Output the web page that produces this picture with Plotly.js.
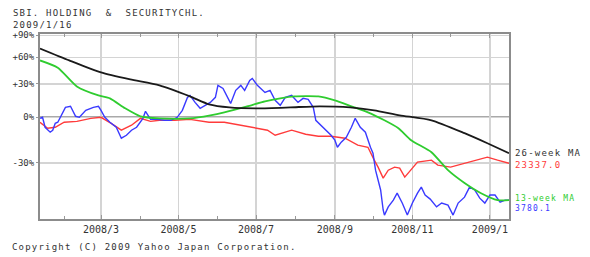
<!DOCTYPE html>
<html>
<head>
<meta charset="utf-8">
<script src="https://cdn.plot.ly/plotly-3.0.1.min.js"></script>
<style>
html,body{margin:0;padding:0;background:#fff;}
#chart{width:590px;height:257px;}
#chart svg .annotation-text{letter-spacing:1.2px;}
</style>
</head>
<body>
<div id="chart"></div>
<script>
// ---- data (percent change vs. start) ----
const stockDates = ["2008-01-13","2008-01-15","2008-01-17","2008-01-21","2008-01-23","2008-01-25","2008-01-27","2008-01-30","2008-02-02","2008-02-06","2008-02-10","2008-02-13","2008-02-18","2008-02-24","2008-02-28","2008-03-01","2008-03-04","2008-03-08","2008-03-13","2008-03-17","2008-03-21","2008-03-25","2008-03-29","2008-04-03","2008-04-05","2008-04-09","2008-04-14","2008-04-20","2008-04-25","2008-04-30","2008-05-04","2008-05-08","2008-05-10","2008-05-14","2008-05-18","2008-05-22","2008-05-26","2008-05-30","2008-06-01","2008-06-05","2008-06-09","2008-06-11","2008-06-15","2008-06-19","2008-06-22","2008-06-26","2008-06-28","2008-07-02","2008-07-08","2008-07-12","2008-07-16","2008-07-20","2008-07-24","2008-07-29","2008-08-03","2008-08-07","2008-08-11","2008-08-15","2008-08-17","2008-08-21","2008-08-25","2008-08-29","2008-09-01","2008-09-03","2008-09-06","2008-09-10","2008-09-14","2008-09-17","2008-09-21","2008-09-25","2008-09-29","2008-10-01","2008-10-03","2008-10-07","2008-10-09","2008-10-10","2008-10-13","2008-10-17","2008-10-20","2008-10-24","2008-10-28","2008-11-01","2008-11-05","2008-11-08","2008-11-11","2008-11-15","2008-11-20","2008-11-24","2008-11-29","2008-12-03","2008-12-07","2008-12-12","2008-12-16","2008-12-20","2008-12-24","2008-12-28","2009-01-01","2009-01-05","2009-01-09","2009-01-13","2009-01-16"];
const stockPct = [-0.8,0,-7.5,-11.0,-9.6,-4.6,-3.8,1.6,8.1,9.0,0.8,0,5.6,8.1,9.0,5.6,0,-3.8,-7.5,-15.1,-13.1,-9.6,-7.5,-0.8,4.8,-1.6,-1.6,-2.3,-2.3,0,5.6,16.9,18.7,12.4,7.3,9.8,12.4,16.9,28.4,25.4,16.0,11.5,23.5,28.4,23.5,33.5,35.6,28.4,21.5,23.5,14.2,9.8,16.9,18.7,12.4,16.0,15.1,8.1,-2.3,-6.0,-9.6,-13.1,-16.4,-20.9,-17.7,-14.5,-7.5,-0.8,-7.5,-11.0,-20.9,-24.5,-33.9,-43.4,-51.6,-53.5,-50.4,-47.7,-44.8,-48.9,-53.5,-48.9,-44.8,-42.1,-45.6,-47.3,-50.4,-48.9,-49.7,-53.5,-48.9,-46.5,-42.1,-43.4,-46.9,-48.9,-45.6,-45.6,-48.5,-47.7,-47.7];

const indexDates = ["2008-01-13","2008-01-19","2008-01-25","2008-02-01","2008-02-11","2008-02-22","2008-03-01","2008-03-09","2008-03-17","2008-03-25","2008-04-01","2008-04-09","2008-04-16","2008-04-28","2008-05-10","2008-05-25","2008-06-06","2008-06-19","2008-06-30","2008-07-10","2008-07-16","2008-07-29","2008-08-09","2008-08-19","2008-08-29","2008-09-09","2008-09-19","2008-09-27","2008-10-02","2008-10-05","2008-10-09","2008-10-13","2008-10-18","2008-10-22","2008-10-26","2008-10-31","2008-11-05","2008-11-16","2008-11-21","2008-12-01","2008-12-12","2008-12-22","2008-12-30","2009-01-07","2009-01-16"];
const indexPct = [-3.8,-8.2,-7.5,-3.8,-3.1,-0.8,0,-4.6,-9.6,-6.0,-0.8,-3.1,-2.3,-2.3,-1.6,-3.8,-3.8,-6.0,-8.2,-9.6,-13.1,-9.6,-12.4,-13.8,-13.8,-15.1,-19.6,-20.9,-28.5,-32.3,-37.9,-33.9,-32.3,-32.8,-37.4,-33.9,-29.6,-28.5,-31.2,-32.3,-30.2,-28.5,-26.8,-28.5,-30.2];

const ma26Dates = ["2008-01-13","2008-02-05","2008-03-01","2008-03-24","2008-04-16","2008-05-10","2008-05-25","2008-06-10","2008-07-03","2008-07-28","2008-08-20","2008-09-13","2008-10-02","2008-10-22","2008-11-16","2008-12-12","2008-12-30","2009-01-16"];
const ma26Pct = [71.3,56.1,42.1,34.5,28.4,17.8,10.7,8.1,7.3,8.1,9.0,8.1,5.6,1.6,-2.3,-11.7,-18.4,-24.5];

const ma13Dates = ["2008-01-13","2008-01-27","2008-02-11","2008-02-28","2008-03-08","2008-03-20","2008-04-01","2008-04-16","2008-05-10","2008-05-26","2008-06-06","2008-06-24","2008-07-08","2008-07-20","2008-07-31","2008-08-19","2008-09-01","2008-09-14","2008-09-27","2008-10-10","2008-10-21","2008-10-31","2008-11-16","2008-11-29","2008-12-12","2008-12-25","2009-01-07","2009-01-16"];
const ma13Pct = [56.1,47.5,27.4,18.7,16.0,7.3,0.8,-0.8,-0.8,1.6,4.0,9.0,13.3,16.0,17.8,17.8,14.2,9.0,4.0,-2.3,-8.2,-16.4,-23.9,-33.9,-40.2,-44.8,-47.7,-47.7];

const yTickPct = [90, 60, 30, 0, -30];
const yTickText = ["+90%", "+60%", "+30%", "0%", "-30%"];
const xTickDates = ["2008-03-01","2008-05-01","2008-07-01","2008-09-01","2008-11-01","2009-01-01"];
const xTickText = ["2008/3","2008/5","2008/7","2008/9","2008/11","2009/1"];
const titleLine1 = "SBI.\u00a0HOLDING\u00a0\u00a0&\u00a0\u00a0SECURITYCHL.";
const titleLine2 = "2009/1/16";
const copyright = "Copyright (C) 2009 Yahoo Japan Corporation.";
const ma26Label = "26-week MA";
const ma13Label = "13-week MA";
const indexLast = "23337.0";
const stockLast = "3780.1";

// ---- drawing ----
const toRatio = a => a.map(p => 1 + p / 100);
const FONT = "DejaVu Sans Mono, Liberation Mono, monospace";
const C = {blue:"#3a3aff", red:"#ff3b3b", green:"#2fcc2f", black:"#1a1a1a"};

const traces = [
  {x: indexDates, y: toRatio(indexPct), mode:"lines", line:{color:C.red, width:1.4}},
  {x: stockDates, y: toRatio(stockPct), mode:"lines", line:{color:C.blue, width:1.4}},
  {x: ma13Dates, y: toRatio(ma13Pct), mode:"lines", line:{color:C.green, width:1.8, shape:"spline", smoothing:0.6}},
  {x: ma26Dates, y: toRatio(ma26Pct), mode:"lines", line:{color:C.black, width:1.8, shape:"spline", smoothing:0.6}}
];

const last = a => 1 + a[a.length-1] / 100;
const endAnn = (txt, yv, col, ys, size) => ({xref:"paper", yref:"y", x:1.008, y:Math.log10(yv), text:txt,
  showarrow:false, xanchor:"left", yanchor:"middle", align:"left", yshift:ys, font:{family:FONT, size:size, color:col}});

const layout = {
  width:590, height:257,
  margin:{l:40, r:81, t:34, b:38},
  paper_bgcolor:"#fff", plot_bgcolor:"#fff",
  showlegend:false,
  xaxis:{
    type:"date", range:["2008-01-13","2009-01-16"],
    tickvals:xTickDates, ticktext:xTickText,
    ticks:"inside", ticklen:4, tickcolor:"#999",
    showgrid:true, gridcolor:"#d4d4d4", gridwidth:1.5,
    showline:true, linecolor:"#8c8c8c", linewidth:2, mirror:"allticks",
    minor:{dtick:"M1", tick0:"2008-01-01", ticks:"inside", ticklen:3, tickcolor:"#999", showgrid:false},
    tickfont:{family:FONT, size:10, color:"#333"},
    zeroline:false, fixedrange:true
  },
  yaxis:{
    type:"log", range:[Math.log10(0.451), Math.log10(1.92)],
    tickvals:toRatio(yTickPct), ticktext:yTickText,
    ticks:"outside", ticklen:2, tickcolor:"#999",
    showgrid:true, gridcolor:"#d4d4d4", gridwidth:1.5,
    showline:true, linecolor:"#8c8c8c", linewidth:2, mirror:true,
    tickfont:{family:FONT, size:9, color:"#333"},
    zeroline:false, fixedrange:true
  },
  shapes:[
    {type:"line", xref:"paper", yref:"y", x0:0, x1:1, y0:1, y1:1, line:{color:"#555", width:1.5}, layer:"below"}
  ],
  annotations:[
    {xref:"paper", yref:"paper", x:-0.062, y:1.083, xanchor:"left", yanchor:"middle", showarrow:false,
     text:titleLine1 + "<br>" + titleLine2, align:"left", font:{family:FONT, size:9, color:"#333"}},
    {xref:"paper", yref:"paper", x:-0.064, y:-0.152, xanchor:"left", yanchor:"middle", showarrow:false,
     align:"left", text:copyright, font:{family:FONT, size:9, color:"#333"}},
    endAnn(ma26Label, last(ma26Pct), "#333", 0, 9),
    endAnn(indexLast, last(indexPct), C.red, -2, 9),
    {xref:"paper", yref:"y", x:1.008, y:Math.log10(last(ma13Pct)), xanchor:"left", yanchor:"middle",
     yshift:-3, showarrow:false, align:"left",
     text:'<span style="color:' + C.green + '">' + ma13Label + '</span><br><span style="color:' + C.blue + '">' + stockLast + '</span>',
     font:{family:FONT, size:8, color:C.green}}
  ]
};

Plotly.newPlot("chart", traces, layout, {staticPlot:true, displayModeBar:false});
</script>
</body>
</html>
